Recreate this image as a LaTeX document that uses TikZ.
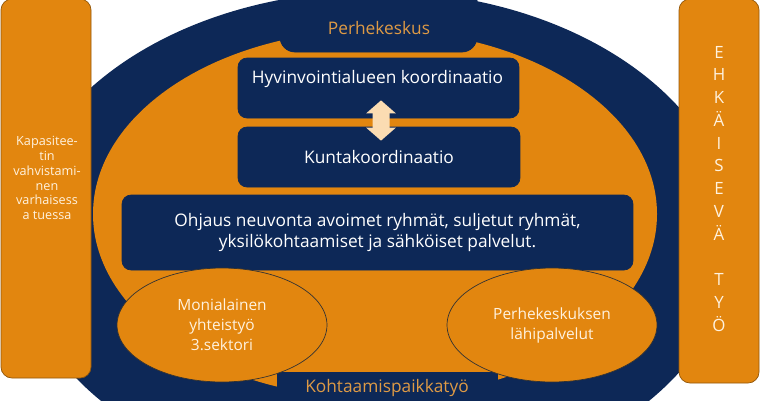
\documentclass[tikz,border=0pt]{standalone}
\usepackage{fontspec}
\setmainfont{Open Sans}
\usetikzlibrary{arrows.meta,shapes.geometric}
\definecolor{navy}{HTML}{0D2857}
\definecolor{oranssi}{HTML}{E2860F}
\definecolor{persikka}{HTML}{FBDCB2}
\definecolor{kerma}{HTML}{FFF2DF}
\definecolor{tabteksti}{HTML}{DE9A45}

\begin{document}
\begin{tikzpicture}[x=0.02cm, y=-0.02cm,
  laatikko/.style={draw=navy, fill=navy, rounded corners=0.18cm, text=white, inner sep=0pt},
  soikio/.style={ellipse, draw=black!80, thin, fill=oranssi, text=kerma, align=center,
    minimum width=4.2cm, minimum height=2.28cm, font=\fontsize{8.8}{11.4}\selectfont},
  palkki/.style={draw=oranssi!65!black, fill=oranssi, rounded corners=0.22cm},
  isoteksti/.style={font=\fontsize{9.85}{12.5}\selectfont}]

\useasboundingbox (0,0) rectangle (760,400);
\clip (0,0) rectangle (760,400);

% taustat
\fill[navy] (375,240) ellipse [x radius=359, y radius=249];
\fill[oranssi] (375,214) ellipse [x radius=282, y radius=184];

\draw[navy, fill=navy, rounded corners=0.3cm] (280,-20) rectangle (477,52);
\node[isoteksti, text=tabteksti] (perhekeskus) at (379,28) {Perhekeskus};
\draw[navy, fill=navy] (277,372) rectangle (497,420);
\node[isoteksti, text=tabteksti] (kohtaamis) at (387,388) {Kohtaamispaikkatyö};

% laatikot
\node[laatikko, minimum width=5.62cm, minimum height=1.2cm] (hyv) at (378.5,88) {};
\node[isoteksti, text=white, anchor=base] (hyvteksti) at (377.5,83) {Hyvinvointialueen koordinaatio};
\node[laatikko, isoteksti, minimum width=5.64cm, minimum height=1.2cm] (kunta) at (379,157) {Kuntakoordinaatio};
\node[laatikko, isoteksti, align=center, minimum width=10.22cm, minimum height=1.5cm] (ohjaus) at (377.5,232.5)
  {Ohjaus neuvonta avoimet ryhmät, suljetut ryhmät,\\yksilökohtaamiset ja sähköiset palvelut.};

\draw[persikka, line width=0.34cm, {Triangle[width=0.58cm,length=0.26cm]}-{Triangle[width=0.58cm,length=0.26cm]}]
  ([xshift=0.05cm,yshift=0.36cm]hyv.south) -- ([xshift=0.04cm,yshift=-0.28cm]kunta.north);

\node[soikio] (moni) at (222,325) {Monialainen\\yhteistyö\\3.sektori};
\node[soikio] (lahi) at (552,325) {Perhekeskuksen\\lähipalvelut};

% reunapalkit
\draw[palkki] (1,-1) rectangle (91,378);
\node[align=center, text=kerma, font=\fontsize{7.2}{8.5}\selectfont] (kapasiteetti) at (47,178)
  {Kapasitee-\\tin\\vahvistami-\\nen\\varhaisess\\a tuessa};
\draw[palkki] (679,-1) rectangle (759,383);
\foreach \k [count=\i] in {E,H,K,Ä,I,S,E,V,Ä,{},T,Y,Ö}
  \node[text=kerma, font=\fontsize{9.6}{11}\selectfont, anchor=base] (ehk\i) at (719,{58+22.75*(\i-1)}) {\k};

\end{tikzpicture}
\end{document}
